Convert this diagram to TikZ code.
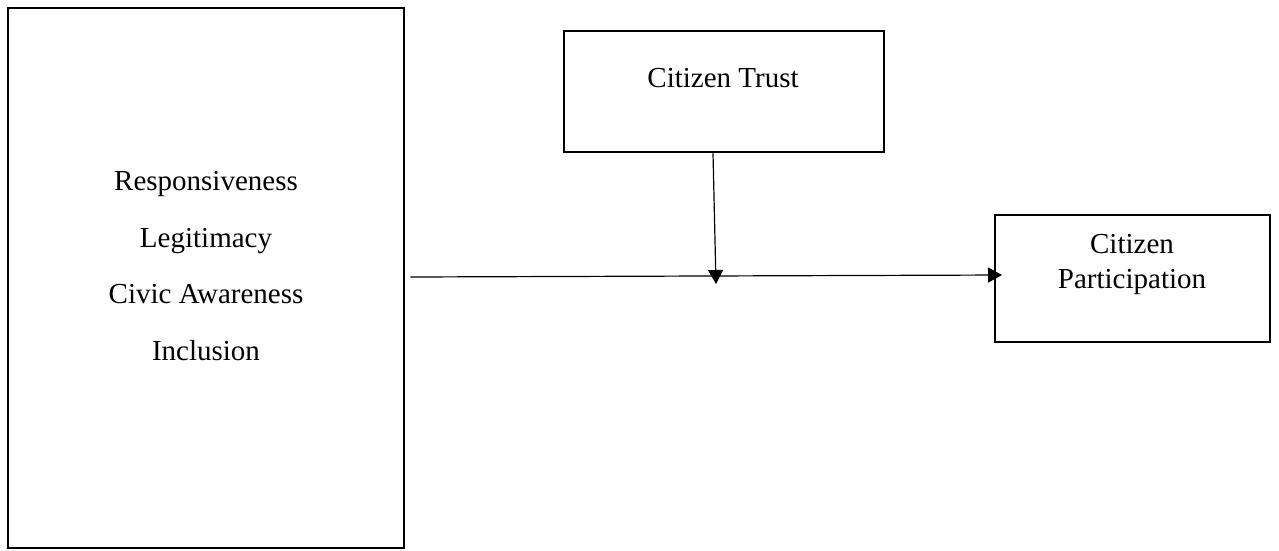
\documentclass[tikz,border=0pt]{standalone}
\usepackage{fontspec}
\setmainfont{Liberation Serif}
\usetikzlibrary{arrows.meta}
\begin{document}
\begin{tikzpicture}[x=1pt,y=-1pt,
  box/.style={draw,line width=2.6pt,inner sep=0pt},
  label/.style={font=\fontsize{29}{34}\selectfont,inner sep=0pt,anchor=base},
  link/.style={line width=1.2pt,-{Triangle[length=14pt,width=15pt]}}]
  \useasboundingbox (0,0) rectangle (1279,550);
  % predictor box with its four factors
  \node[box,minimum width=396pt,minimum height=540pt] (factors) at (206,278) {};
  \node[label] (resp) at (206,190) {Responsiveness};
  \node[label] (legit) at (206,247) {Legitimacy};
  \node[label] (civic) at (206,303) {Civic Awareness};
  \node[label] (incl) at (206,360) {Inclusion};
  % moderator
  \node[box,minimum width=320pt,minimum height=121pt] (trust) at (724,91.5) {};
  \node[label] (trusttext) at (723,87) {Citizen Trust};
  % outcome
  \node[box,minimum width=275pt,minimum height=127pt] (part) at (1132.5,278.5) {};
  \node[label] (parttop) at (1132,253) {Citizen};
  \node[label] (partbot) at (1132,288) {Participation};
  % connectors
  \coordinate (mod) at (716,284);
  \coordinate (hit) at (1002,275);
  \draw[link] ([xshift=-11pt]trust.south) -- (mod);
  \draw[link] ([xshift=5pt,yshift=1pt]factors.east) -- (hit);
\end{tikzpicture}
\end{document}
